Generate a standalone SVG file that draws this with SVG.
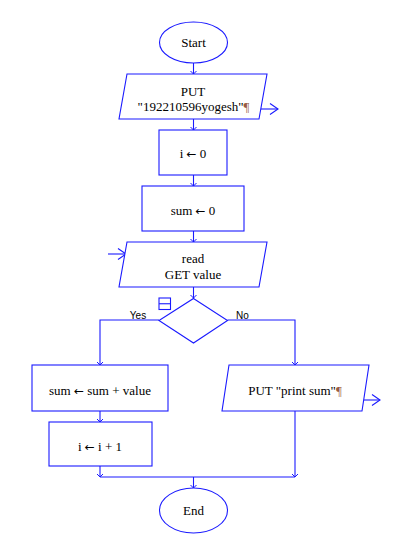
<svg xmlns="http://www.w3.org/2000/svg" width="411" height="550" viewBox="0 0 411 550">
<style>
.s{fill:#fff;stroke:#1a1aff;stroke-width:1.1}
.c{fill:none;stroke:#1a1aff;stroke-width:1.1}
.t{font-family:"Liberation Serif","Times New Roman",serif;font-size:13px;fill:#000;text-anchor:middle}
.l{font-family:"Liberation Sans",Arial,sans-serif;font-size:10px;fill:#000;text-anchor:middle}
.p{fill:#9a5a40}
.r{font-family:"DejaVu Sans",sans-serif;font-size:12px}
</style>
<defs>
<marker id="a" markerWidth="8" markerHeight="8" refX="4" refY="4" orient="auto" markerUnits="userSpaceOnUse">
<path d="M1,1 L4,4 L1,7" fill="none" stroke="#1a1aff" stroke-width="1"/>
</marker>
<marker id="o" markerWidth="12" markerHeight="14" refX="10" refY="7" orient="auto" markerUnits="userSpaceOnUse">
<path d="M2,1.5 L10,7 L2,12.5" fill="none" stroke="#1a1aff" stroke-width="1.1"/>
</marker>
</defs>
<rect width="411" height="550" fill="#fff"/>
<g id="connectors">
<line class="c" x1="193.5" y1="63" x2="193.5" y2="74" marker-end="url(#a)"/>
<line class="c" x1="193.5" y1="119" x2="193.5" y2="130" marker-end="url(#a)"/>
<line class="c" x1="193.5" y1="175" x2="193.5" y2="186" marker-end="url(#a)"/>
<line class="c" x1="193.5" y1="231" x2="193.5" y2="242" marker-end="url(#a)"/>
<line class="c" x1="193.5" y1="287" x2="193.5" y2="298" marker-end="url(#a)"/>
<polyline class="c" points="159,320 100,320 100,365" marker-end="url(#a)"/>
<polyline class="c" points="227.5,320 295,320 295,365" marker-end="url(#a)"/>
<line class="c" x1="100" y1="411" x2="100" y2="422" marker-end="url(#a)"/>
<line class="c" x1="100" y1="466" x2="100" y2="477" marker-end="url(#a)"/>
<line class="c" x1="295" y1="411" x2="295" y2="477" marker-end="url(#a)"/>
<line class="c" x1="100" y1="477" x2="295" y2="477"/>
<line class="c" x1="193.5" y1="477" x2="193.5" y2="488" marker-end="url(#a)"/>
<line class="c" x1="261" y1="109" x2="278" y2="109" marker-end="url(#o)"/>
<line class="c" x1="108" y1="254" x2="126" y2="254" marker-end="url(#o)"/>
<line class="c" x1="363.5" y1="400" x2="380" y2="400" marker-end="url(#o)"/>
<text class="l" x="138" y="319">Yes</text>
<text class="l" x="242.5" y="319">No</text>
</g>
<g id="start">
<ellipse class="s" cx="193.5" cy="42.5" rx="34" ry="20.5"/>
<text class="t" x="193.5" y="47">Start</text>
</g>
<g id="put1">
<polygon class="s" points="127,74 267,74 259,119 119,119"/>
<text class="t" x="193" y="95.5">PUT</text>
<text class="t" x="193.5" y="110.5">"192210596yogesh"<tspan class="p">¶</tspan></text>
</g>
<g id="init-i">
<rect class="s" x="159" y="130" width="68" height="45"/>
<text class="t" x="193" y="157.5">i <tspan class="r">←</tspan> 0</text>
</g>
<g id="init-sum">
<rect class="s" x="142" y="186" width="102" height="45"/>
<text class="t" x="193" y="215">sum <tspan class="r">←</tspan> 0</text>
</g>
<g id="read">
<polygon class="s" points="127,242 267,242 259,287 119,287"/>
<text class="t" x="193" y="262.5">read</text>
<text class="t" x="193" y="278.5">GET value</text>
</g>
<g id="decision">
<polygon class="s" points="193.5,298.5 227.5,320.5 193.5,343 159,320.5"/>
<rect class="s" x="159" y="298" width="11.5" height="11.5"/>
<line class="c" x1="159" y1="303.75" x2="170.5" y2="303.75"/>
</g>
<g id="add">
<rect class="s" x="32" y="365" width="136" height="46"/>
<text class="t" x="100" y="394.5">sum <tspan class="r">←</tspan> sum + value</text>
</g>
<g id="put2">
<polygon class="s" points="229,365 369,365 362,411 222,411"/>
<text class="t" x="295" y="394.5">PUT "print sum"<tspan class="p">¶</tspan></text>
</g>
<g id="inc">
<rect class="s" x="49" y="422" width="103" height="44"/>
<text class="t" x="100" y="450.5">i <tspan class="r">←</tspan> i + 1</text>
</g>
<g id="end">
<ellipse class="s" cx="193.5" cy="510.5" rx="34" ry="22.5"/>
<text class="t" x="193.5" y="515">End</text>
</g>
</svg>
